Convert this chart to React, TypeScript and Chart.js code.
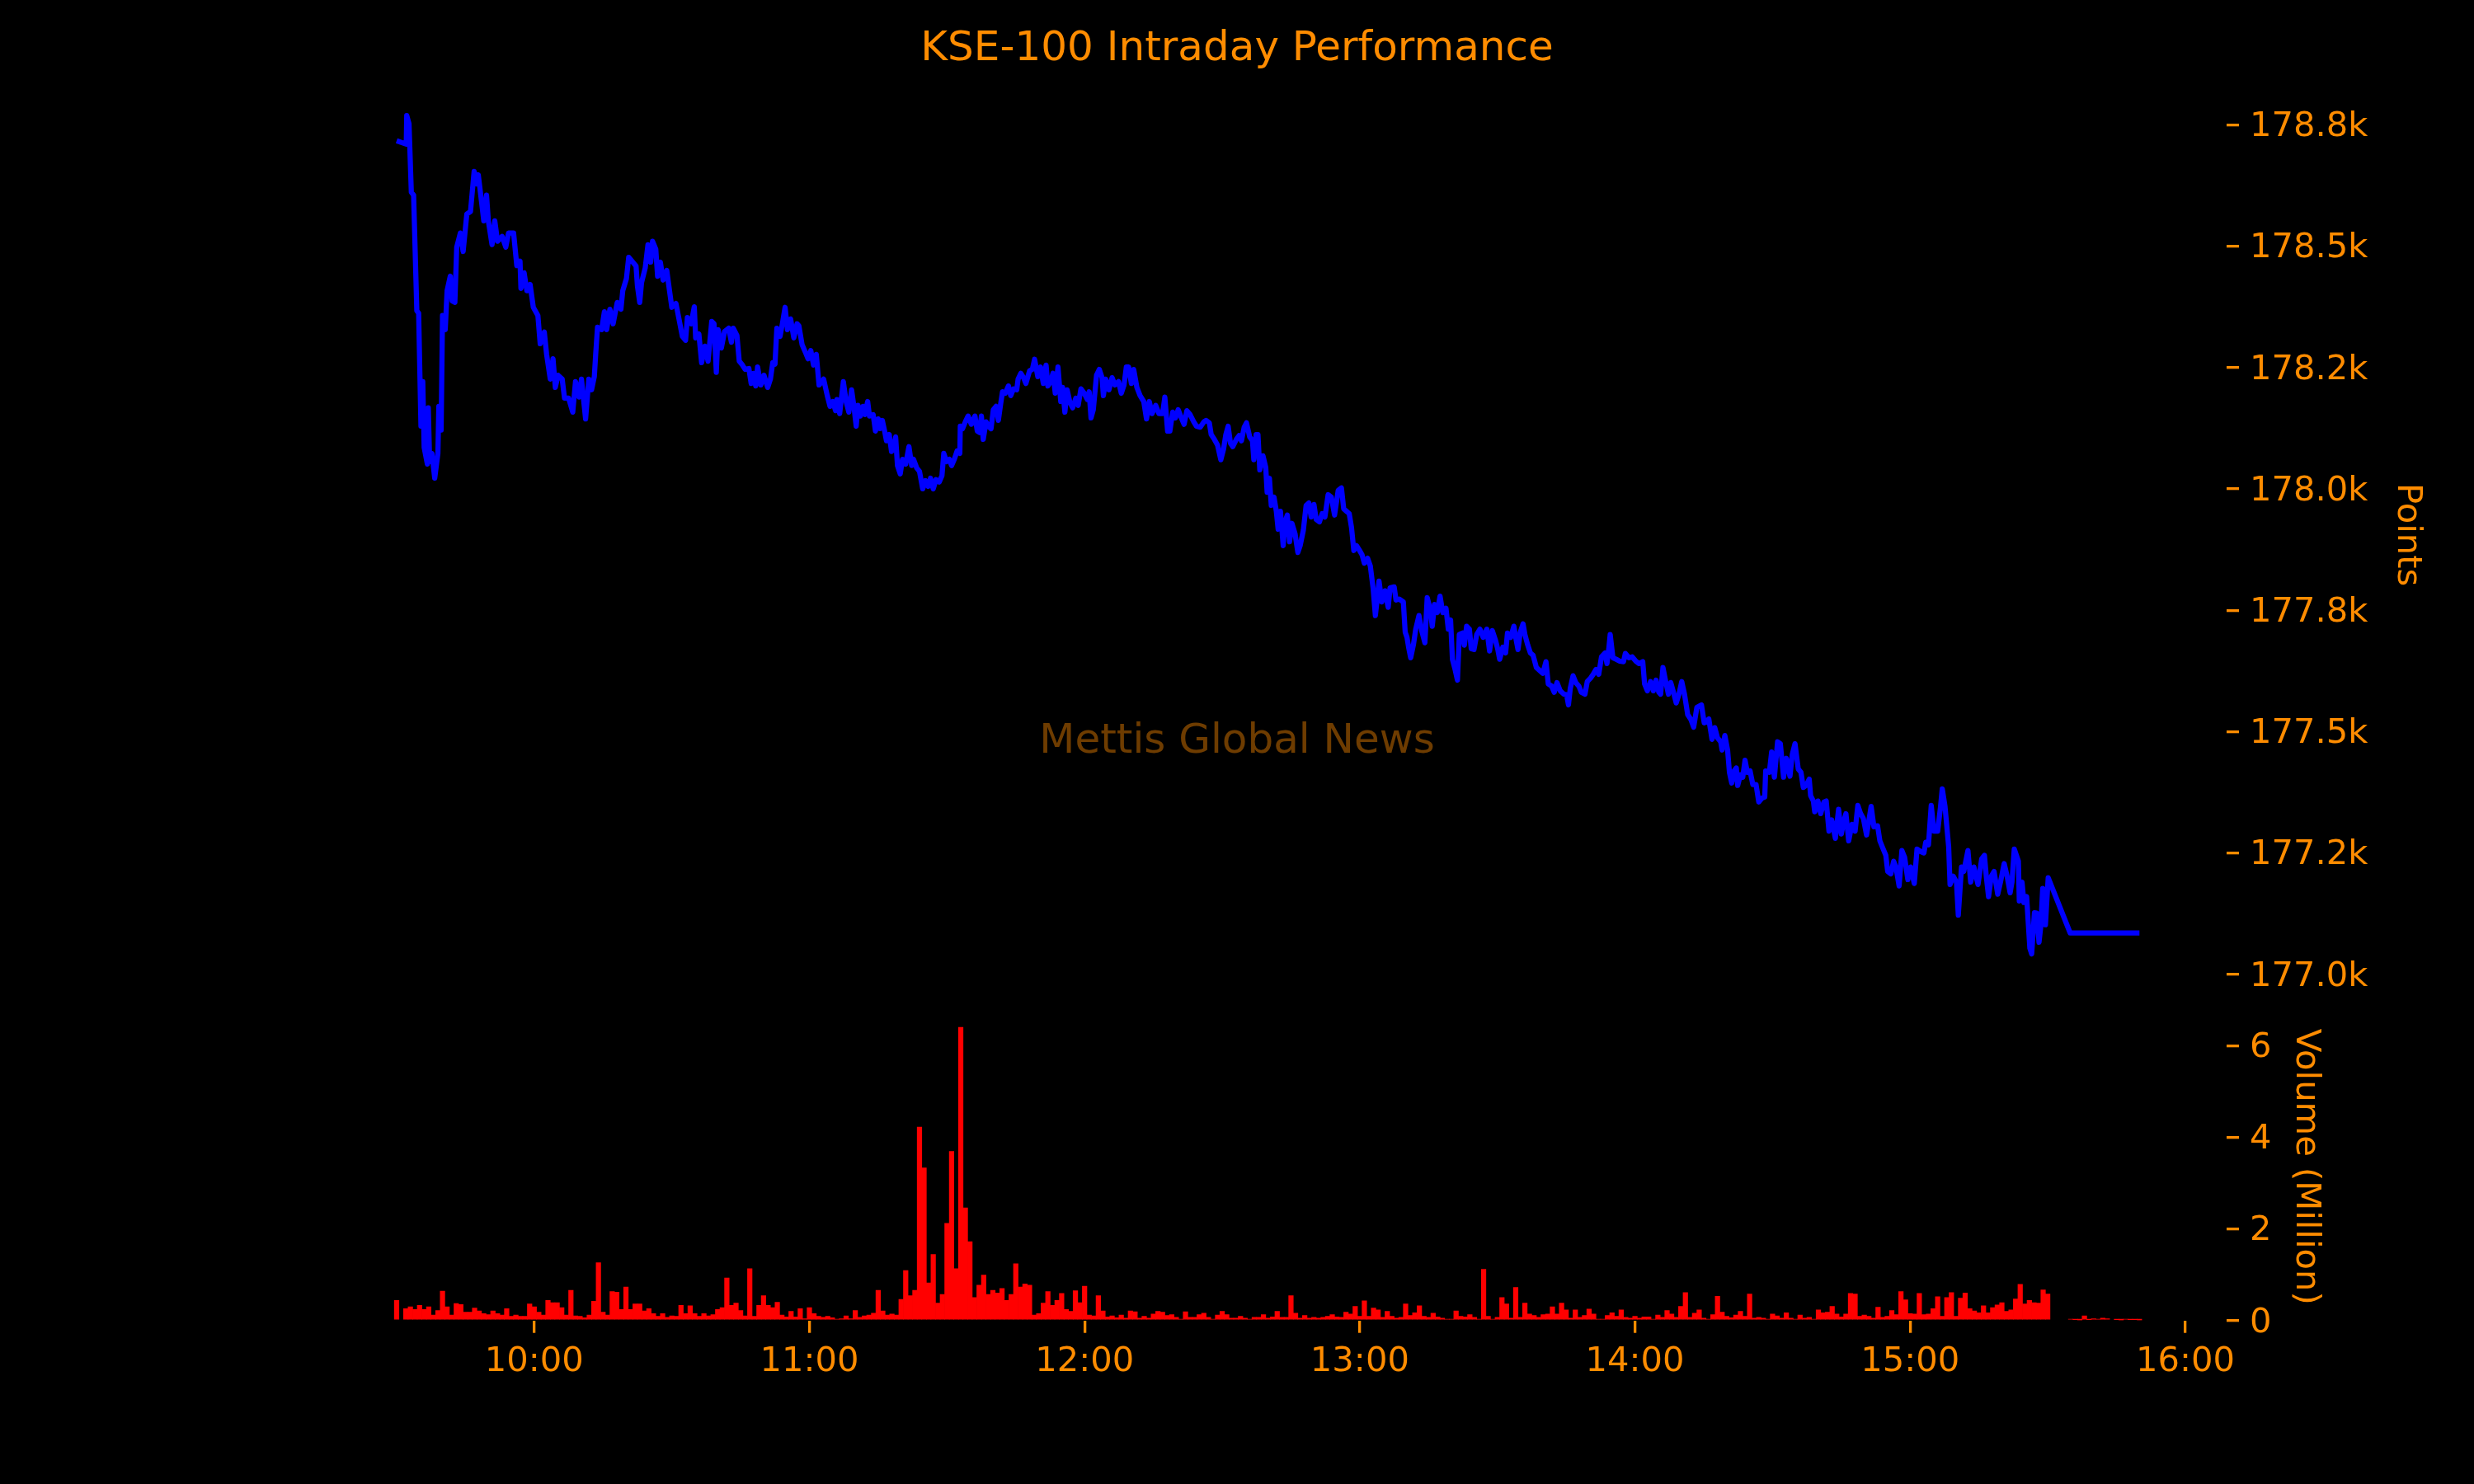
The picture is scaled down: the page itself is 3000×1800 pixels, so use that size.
import React, { useEffect, useRef } from 'react';
import { Chart, registerables } from 'chart.js';

Chart.register(...registerables);

// ---------------- data ----------------
// KSE-100 index level, time in minutes after midnight
const lineTimes = [
  570.0, 572.1, 572.2, 572.7, 573.2, 573.7, 574.4, 574.8, 575.3, 575.7,
  576.0, 576.7, 576.9, 577.2, 577.7, 578.3, 579.0, 579.2, 579.7, 580.0,
  580.6, 581.0, 581.7, 582.1, 582.7, 583.1, 583.9, 584.5, 585.3, 586.1,
  586.9, 587.4, 587.8, 588.3, 589.0, 589.6, 590.0, 590.8, 591.4, 592.0,
  593.0, 593.8, 594.4, 595.5, 596.2, 596.9, 597.1, 597.8, 598.4, 599.1,
  599.8, 600.8, 601.3, 602.2, 602.7, 603.5, 604.1, 604.6, 605.2, 606.1,
  606.6, 607.5, 608.4, 609.0, 609.8, 610.3, 611.2, 611.9, 612.5, 613.1,
  613.4, 613.8, 614.7, 615.3, 615.8, 616.5, 617.2, 618.1, 618.9, 619.3,
  620.1, 620.6, 621.5, 622.2, 622.5, 623.0, 623.4, 624.2, 624.8, 625.4,
  625.8, 626.5, 626.9, 627.5, 628.1, 628.9, 629.5, 630.0, 630.9, 631.5,
  632.3, 633.0, 633.4, 634.2, 634.9, 635.2, 635.9, 636.5, 637.2, 637.9,
  638.7, 639.2, 639.7, 640.1, 640.8, 641.5, 642.4, 643.0, 643.4, 644.2,
  644.7, 645.4, 646.0, 646.8, 647.3, 647.8, 648.3, 648.7, 649.4, 650.1,
  650.9, 651.5, 652.0, 652.5, 652.9, 653.6, 654.1, 654.7, 655.2, 655.9,
  656.6, 657.3, 657.7, 658.4, 659.1, 659.7, 660.3, 660.9, 661.5, 662.1, 663.1,
  663.9, 664.5, 665.1, 665.7, 666.0, 666.6, 667.4, 668.0, 668.6, 669.2,
  669.7, 670.2, 670.6, 671.1, 671.7, 672.1, 672.7, 673.1, 673.9, 674.4,
  675.0, 675.4, 675.9, 676.4, 676.8, 677.4, 677.9, 678.4, 678.8, 679.2,
  679.8, 680.3, 681.0, 681.7, 682.3, 682.7, 683.4, 684.0, 684.7, 685.3,
  685.9, 686.4, 687.0, 687.6, 688.3, 688.9, 689.3, 689.9, 690.5, 691.0,
  691.6, 692.2, 692.8, 692.9, 693.4, 694.0, 694.6, 695.3, 696.1, 696.6,
  697.1, 697.5, 697.9, 698.5, 699.2, 699.6, 700.1, 700.7, 701.2, 701.7,
  702.1, 702.7, 703.4, 703.9, 704.5, 705.2, 705.5, 706.1, 706.7, 707.2,
  708.0, 708.6, 709.1, 709.8, 710.4, 711.0, 711.6, 712.0, 712.6, 713.1,
  713.6, 714.2, 714.8, 715.2, 715.7, 716.2, 716.8, 717.4, 718.1, 718.6,
  719.2, 719.9, 720.6, 721.0, 721.4, 721.9, 722.6, 723.2, 723.8, 724.1,
  724.6, 725.3, 726.0, 726.6, 727.4, 728.0, 728.6, 729.1, 729.6, 730.2,
  730.7, 731.4, 732.1, 732.9, 733.5, 734.1, 734.7, 735.5, 736.2, 737.0,
  737.5, 738.1, 738.6, 739.2, 739.8, 740.4, 741.1, 741.7, 742.3, 743.0,
  743.8, 744.4, 745.2, 746.0, 746.5, 747.2, 747.6, 748.3, 749.0, 749.7,
  750.3, 750.8, 751.3, 751.8, 752.3, 753.1, 753.7, 754.2, 754.8, 755.3,
  756.0, 756.6, 756.9, 757.4, 757.8, 758.2, 758.9, 759.5, 759.8, 760.3,
  760.7, 761.3, 761.8, 762.2, 762.7, 763.3, 763.7, 764.2, 764.7, 765.2,
  765.9, 766.5, 767.0, 767.7, 768.3, 768.9, 769.4, 770.0, 770.5, 771.2,
  771.8, 772.4, 773.1, 773.8, 774.5, 775.3, 776.0, 776.5, 777.1, 777.7,
  778.2, 778.7, 779.3, 779.9, 780.5, 781.0, 781.7, 782.3, 782.9, 783.4,
  783.8, 784.2, 784.8, 785.5, 786.2, 786.6, 787.5, 787.9, 788.6, 789.5,
  789.9, 790.3, 790.7, 791.1, 791.7, 792.2, 792.9, 793.5, 794.2, 794.7,
  795.4, 795.8, 796.3, 796.9, 797.5, 798.1, 798.8, 799.3, 799.8, 800.2,
  800.8, 801.3, 801.7, 802.4, 802.8, 803.3, 803.9, 804.3, 804.9, 805.5,
  806.2, 806.9, 807.7, 808.3, 808.9, 809.6, 810.1, 810.5, 811.2, 811.8,
  812.2, 812.9, 813.6, 814.0, 814.5, 815.0, 815.6, 816.0, 816.6, 817.2,
  817.8, 818.5, 819.1, 819.9, 820.6, 821.1, 821.8, 822.4, 823.0, 823.7,
  824.5, 825.1, 825.5, 825.9, 826.5, 827.1, 827.8, 828.3, 829.1, 829.6,
  830.3, 830.9, 831.5, 832.1, 832.7, 833.5, 833.9, 834.3, 834.6, 835.2,
  835.9, 836.7, 837.5, 837.9, 838.7, 839.4, 840.2, 840.9, 841.7, 842.1,
  842.7, 843.4, 844.0, 844.6, 845.2, 845.6, 846.1, 846.7, 847.3, 847.8,
  848.4, 849.0, 849.6, 850.2, 850.8, 851.5, 852.2, 852.8, 853.5,
  854.5, 855.1, 856.1, 856.8, 857.4, 858.0, 858.7, 859.0, 859.6, 860.2,
  860.6, 861.1, 861.6, 862.1, 862.4, 863.0, 863.5, 864.0, 864.5, 865.1,
  865.7, 866.4, 867.0, 867.7, 868.3, 868.5, 869.3, 869.8, 870.4, 871.1,
  871.7, 872.4, 873.0, 873.8, 874.3, 874.9, 875.6, 876.2, 876.7, 877.3,
  878.0, 878.3, 878.9, 879.2, 879.9, 880.5, 881.2, 881.7, 882.3, 882.9,
  883.7, 884.4, 885.0, 885.5, 886.0, 886.6, 887.3, 888.0, 888.6, 889.2,
  889.8, 890.5, 891.5, 892.1, 892.9, 893.4, 894.0, 894.7, 895.1, 895.8,
  896.4, 896.9, 897.6, 898.2, 898.8, 899.5, 900.1, 900.9, 901.5, 902.3,
  903.0, 903.4, 904.0, 904.6, 905.2, 906.0, 906.6, 907.0, 907.6, 908.4,
  908.7, 909.4, 910.1, 910.5, 911.2, 911.7, 912.6, 913.2, 913.9, 914.8,
  915.6, 916.2, 916.6, 917.1, 917.7, 918.3, 919.1, 919.7, 920.5, 921.1,
  921.8, 922.2, 922.7, 923.6, 923.8, 924.4, 924.8, 925.4, 926.1, 926.5,
  927.1, 927.6, 928.1, 928.5, 928.9, 929.5, 930.1, 934.9, 950.0,
];

const lineValues = [
  178717, 178710, 178769, 178752, 178611, 178605, 178367, 178362, 178129, 178221,
  178085, 178051, 178167, 178056, 178073, 178022, 178073, 178170, 178121, 178357,
  178328, 178408, 178438, 178387, 178384, 178498, 178527, 178489, 178566, 178571,
  178654, 178628, 178647, 178608, 178552, 178605, 178552, 178503, 178552, 178510,
  178520, 178498, 178527, 178527, 178460, 178469, 178413, 178445, 178408, 178421,
  178374, 178357, 178299, 178323, 178277, 178226, 178268, 178209, 178234, 178226,
  178187, 178187, 178158, 178221, 178189, 178226, 178144, 178226, 178204, 178231,
  178277, 178333, 178328, 178365, 178328, 178370, 178340, 178384, 178370, 178408,
  178433, 178477, 178467, 178459, 178418, 178384, 178425, 178455, 178503, 178467,
  178510, 178494, 178438, 178467, 178430, 178450, 178408, 178374, 178382, 178353,
  178314, 178306, 178353, 178340, 178375, 178311, 178319, 178260, 178294, 178263,
  178345, 178340, 178240, 178328, 178290, 178324, 178331, 178302, 178331, 178316,
  178263, 178255, 178246, 178248, 178217, 178238, 178212, 178251, 178214, 178234,
  178209, 178226, 178260, 178257, 178331, 178314, 178340, 178374, 178328, 178350,
  178311, 178340, 178336, 178297, 178282, 178268, 178285, 178255, 178277, 178214, 178226,
  178192, 178170, 178180, 178161, 178184, 178155, 178221, 178180, 178158, 178204,
  178170, 178129, 178172, 178150, 178170, 178153, 178180, 178150, 178153, 178119,
  178144, 178124, 178141, 178119, 178099, 178112, 178077, 178085, 178107, 178048,
  178031, 178061, 178051, 178087, 178048, 178061, 178043, 178036, 178000, 178017,
  178005, 178022, 178000, 178019, 178014, 178027, 178073, 178056, 178061, 178048,
  178061, 178078, 178073, 178129, 178124, 178138, 178150, 178133, 178150, 178119,
  178116, 178150, 178102, 178138, 178127, 178124, 178163, 178170, 178141, 178175,
  178200, 178197, 178212, 178192, 178206, 178204, 178226, 178238, 178229, 178217,
  178243, 178246, 178267, 178231, 178251, 178217, 178255, 178212, 178221, 178238,
  178197, 178251, 178180, 178209, 178158, 178204, 178178, 178167, 178187, 178172,
  178206, 178197, 178184, 178200, 178146, 178163, 178234, 178246, 178229, 178192,
  178226, 178204, 178229, 178214, 178221, 178197, 178214, 178251, 178251, 178217,
  178246, 178209, 178192, 178180, 178144, 178180, 178155, 178172, 178155, 178155,
  178189, 178119, 178119, 178158, 178146, 178163, 178146, 178133, 178161, 178153,
  178138, 178129, 178127, 178138, 178141, 178136, 178112, 178102, 178090, 178060,
  178082, 178112, 178129, 178094, 178087, 178102, 178110, 178099, 178127, 178136,
  178107, 178099, 178060, 178112, 178112, 178039, 178068, 178044, 177993, 178022,
  177966, 177983, 177954, 177917, 177954, 177883, 177932, 177946, 177891, 177929,
  177907, 177869, 177883, 177915, 177966, 177971, 177942, 177968, 177937, 177932,
  177949, 177942, 177988, 177983, 177946, 177997, 178002, 177959, 177954, 177949,
  177920, 177873, 177883, 177874, 177864, 177847, 177857, 177841, 177796, 177739,
  177773, 177810, 177767, 177790, 177756, 177796, 177798, 177771, 177773, 177767,
  177705, 177694, 177671, 177652, 177679, 177711, 177739, 177708, 177683, 177776,
  177751, 177717, 177762, 177745, 177779, 177745, 177754, 177711, 177730, 177649,
  177627, 177606, 177700, 177703, 177678, 177717, 177711, 177671, 177669, 177700,
  177711, 177694, 177711, 177666, 177708, 177688, 177669, 177649, 177674, 177662,
  177703, 177694, 177717, 177694, 177669, 177705, 177722, 177700, 177679, 177662,
  177657, 177632, 177627, 177620, 177644, 177598, 177594, 177581, 177601, 177584,
  177577, 177576, 177555, 177589, 177615, 177601, 177593, 177581, 177577, 177603,
  177610, 177618, 177628, 177618, 177654, 177662, 177640, 177671, 177700, 177652,
  177649, 177645, 177644, 177661, 177652, 177654, 177645, 177640, 177644, 177598,
  177584, 177603, 177584, 177606, 177581, 177577, 177632, 177603, 177577, 177601,
  177581, 177559, 177577, 177603, 177577, 177535, 177525, 177509, 177550,
  177555, 177518, 177526, 177484, 177508, 177487, 177479, 177462, 177492, 177462,
  177416, 177394, 177419, 177425, 177389, 177411, 177406, 177441, 177416, 177419,
  177391, 177391, 177355, 177363, 177365, 177419, 177416, 177458, 177406, 177479,
  177475, 177406, 177445, 177408, 177453, 177475, 177423, 177416, 177385, 177389,
  177402, 177368, 177357, 177335, 177357, 177331, 177355, 177357, 177295, 177318,
  177280, 177340, 177289, 177314, 177331, 177275, 177309, 177295, 177348, 177331,
  177321, 177287, 177346, 177304, 177306, 177275, 177261, 177245, 177212, 177207,
  177233, 177221, 177182, 177255, 177241, 177195, 177221, 177187, 177258, 177253,
  177250, 177272, 177267, 177348, 177295, 177295, 177343, 177382, 177346, 177263,
  177185, 177202, 177190, 177122, 177221, 177212, 177255, 177190, 177221, 177185,
  177238, 177245, 177202, 177160, 177202, 177212, 177165, 177190, 177228, 177204,
  177168, 177190, 177258, 177233, 177151, 177190, 177148, 177160, 177054, 177042,
  177127, 177126, 177066, 177100, 177177, 177102, 177199, 177085, 177085,
];

// Traded volume in millions, one bar per minute starting at 09:30 (570 min)
const volumeStartMinute = 570;
const volumeValues = [
  0.44, 0, 0.26, 0.30, 0.24, 0.33, 0.24, 0.30, 0.12, 0.22,
  0.64, 0.30, 0.12, 0.37, 0.35, 0.18, 0.18, 0.27, 0.21, 0.15,
  0.13, 0.21, 0.15, 0.12, 0.26, 0.09, 0.12, 0.09, 0.09, 0.36,
  0.30, 0.18, 0.12, 0.44, 0.39, 0.39, 0.28, 0.12, 0.66, 0.10,
  0.09, 0.06, 0.12, 0.42, 1.26, 0.18, 0.12, 0.63, 0.62, 0.24,
  0.73, 0.24, 0.36, 0.36, 0.21, 0.26, 0.15, 0.09, 0.15, 0.07,
  0.10, 0.09, 0.33, 0.15, 0.32, 0.15, 0.09, 0.15, 0.10, 0.13,
  0.24, 0.28, 0.93, 0.33, 0.38, 0.22, 0.10, 1.13, 0.09, 0.33,
  0.54, 0.33, 0.28, 0.40, 0.12, 0.08, 0.20, 0.08, 0.26, 0.04,
  0.28, 0.15, 0.09, 0.07, 0.09, 0.06, 0.03, 0.04, 0.10, 0.04,
  0.22, 0.07, 0.10, 0.12, 0.16, 0.66, 0.21, 0.12, 0.14, 0.12,
  0.46, 1.09, 0.54, 0.66, 4.22, 3.33, 0.82, 1.44, 0.38, 0.57,
  2.12, 3.69, 1.13, 6.40, 2.46, 1.72, 0.50, 0.77, 0.99, 0.57,
  0.66, 0.60, 0.70, 0.44, 0.57, 1.24, 0.73, 0.80, 0.77, 0.12,
  0.15, 0.38, 0.63, 0.33, 0.44, 0.59, 0.24, 0.20, 0.65, 0.39,
  0.75, 0.12, 0.10, 0.54, 0.21, 0.08, 0.10, 0.06, 0.12, 0.05,
  0.21, 0.19, 0.05, 0.09, 0.05, 0.14, 0.20, 0.18, 0.11, 0.13,
  0.07, 0.03, 0.19, 0.07, 0.07, 0.13, 0.16, 0.07, 0.03, 0.12,
  0.20, 0.13, 0.05, 0.05, 0.09, 0.05, 0.03, 0.07, 0.07, 0.13,
  0.05, 0.08, 0.20, 0.07, 0.07, 0.54, 0.16, 0.05, 0.11, 0.05,
  0.07, 0.05, 0.07, 0.09, 0.13, 0.08, 0.07, 0.18, 0.14, 0.31,
  0.09, 0.43, 0.09, 0.27, 0.23, 0.07, 0.20, 0.09, 0.05, 0.07,
  0.36, 0.11, 0.17, 0.32, 0.09, 0.07, 0.16, 0.08, 0.05, 0.03,
  0.03, 0.21, 0.09, 0.08, 0.13, 0.07, 0.03, 1.12, 0.09, 0.03,
  0.07, 0.50, 0.36, 0.05, 0.72, 0.07, 0.38, 0.14, 0.11, 0.07,
  0.13, 0.14, 0.30, 0.14, 0.38, 0.23, 0.05, 0.23, 0.07, 0.11,
  0.25, 0.14, 0.03, 0.03, 0.11, 0.17, 0.09, 0.23, 0.07, 0.05,
  0.09, 0.05, 0.08, 0.08, 0.03, 0.12, 0.07, 0.22, 0.14, 0.07,
  0.31, 0.61, 0.07, 0.16, 0.23, 0.05, 0.03, 0.13, 0.53, 0.18,
  0.09, 0.06, 0.12, 0.20, 0.09, 0.58, 0.05, 0.07, 0.05, 0.03,
  0.14, 0.10, 0.05, 0.17, 0.05, 0.03, 0.12, 0.05, 0.07, 0.03,
  0.23, 0.17, 0.18, 0.31, 0.14, 0.08, 0.14, 0.59, 0.58, 0.09,
  0.12, 0.09, 0.05, 0.29, 0.07, 0.09, 0.22, 0.13, 0.63, 0.45,
  0.15, 0.14, 0.59, 0.13, 0.14, 0.26, 0.52, 0.09, 0.50, 0.61,
  0.09, 0.49, 0.60, 0.26, 0.21, 0.17, 0.32, 0.17, 0.28, 0.34,
  0.39, 0.20, 0.23, 0.47, 0.79, 0.36, 0.44, 0.39, 0.38, 0.67,
  0.58, 0, 0, 0, 0, 0.03, 0.02, 0.01, 0.10, 0.02,
  0.04, 0.03, 0.05, 0.04, 0, 0.02, 0.01, 0.03, 0.02, 0.02, 0.01,
];

const hourTicks = [600, 660, 720, 780, 840, 900, 960];
const hourTickLabels = ['10:00', '11:00', '12:00', '13:00', '14:00', '15:00', '16:00'];
const priceTicks = [177000, 177250, 177500, 177750, 178000, 178250, 178500, 178750];
const priceTickLabels = ['177.0k', '177.2k', '177.5k', '177.8k', '178.0k', '178.2k', '178.5k', '178.8k'];
const volumeTicks = [0, 2, 4, 6];
const volumeTickLabels = ['0', '2', '4', '6'];

const titleText = 'KSE-100 Intraday Performance';
const watermarkText = 'Mettis Global News';

// axis limits
const X_MIN = 551;
const X_MAX = 969;
const PRICE_MIN = 176956;
const PRICE_MAX = 178855;
const VOLUME_MAX = 6.71;

// ---------------- layout / style ----------------
const W = 3000;
const H = 1800;
const PLOT_LEFT = 375.3;
const PLOT_RIGHT = 2700;
const PRICE_TOP = 89.5;
const PRICE_BOTTOM = 1207.7;
const VOL_TOP = 1228.8;
const VOL_BOTTOM = 1601.7;
const X_AXIS_H = 150;

const ORANGE = '#FF8C00';
const FONT = "'DejaVu Sans', sans-serif";
const TICK_SIZE = 41.67;

const gridTicks = {
  drawOnChartArea: false,
  drawTicks: true,
  tickLength: 15,
  tickWidth: 3.3,
  lineWidth: 3.3,
  color: ORANGE,
  tickColor: ORANGE,
  offset: false,
};

const figureTextPlugin = {
  id: 'figureText',
  afterDraw(chart: any) {
    const ctx = chart.ctx as CanvasRenderingContext2D;
    ctx.save();
    ctx.font = `50px ${FONT}`;
    ctx.textAlign = 'center';
    ctx.textBaseline = 'alphabetic';
    ctx.fillStyle = ORANGE;
    ctx.fillText(titleText, W / 2, 73.3);
    ctx.fillStyle = 'rgba(255,140,0,0.43)';
    ctx.fillText(watermarkText, W / 2, 913);
    ctx.restore();
  },
};

export default function App() {
  const priceRef = useRef<HTMLCanvasElement>(null);
  const volRef = useRef<HTMLCanvasElement>(null);

  useEffect(() => {
    document.body.style.margin = '0';
    document.body.style.background = '#000';
    Chart.defaults.font.family = FONT;

    const priceData = lineTimes.map((t, i) => ({ x: t, y: lineValues[i] }));
    const volumeData = volumeValues
      .map((v, i) => ({ x: volumeStartMinute + i, y: v }))
      .filter((d) => d.y > 0);

    const priceChart = new Chart(priceRef.current as HTMLCanvasElement, {
      type: 'line',
      data: {
        datasets: [
          {
            data: priceData,
            borderColor: '#0000FF',
            borderWidth: 6.25,
            pointRadius: 0,
            tension: 0,
            fill: false,
            borderJoinStyle: 'round',
            borderCapStyle: 'butt',
          } as any,
        ],
      },
      options: {
        responsive: false,
        animation: false,
        devicePixelRatio: 1,
        events: [],
        layout: {
          autoPadding: false,
          padding: { left: PLOT_LEFT, top: PRICE_TOP, right: 0, bottom: H - PRICE_BOTTOM },
        },
        plugins: {
          legend: { display: false },
          tooltip: { enabled: false },
          title: { display: false },
        },
        scales: {
          x: { type: 'linear', min: X_MIN, max: X_MAX, display: false },
          y: {
            type: 'linear',
            position: 'right',
            min: PRICE_MIN,
            max: PRICE_MAX,
            afterBuildTicks: (s: any) => {
              s.ticks = priceTicks.map((v) => ({ value: v }));
            },
            afterFit: (s: any) => {
              s.width = W - PLOT_RIGHT;
            },
            ticks: {
              color: ORANGE,
              font: { family: FONT, size: TICK_SIZE },
              padding: 13,
              labelOffset: 3,
              autoSkip: false,
              callback: (_v: any, i: number) => priceTickLabels[i],
            },
            grid: gridTicks,
            border: { display: false },
            title: {
              display: true,
              text: 'Points',
              color: ORANGE,
              font: { family: FONT, size: TICK_SIZE },
              padding: { top: 56, bottom: 0 },
            },
          },
        },
      } as any,
      plugins: [figureTextPlugin],
    });

    const volumeChart = new Chart(volRef.current as HTMLCanvasElement, {
      type: 'bar',
      data: {
        datasets: [
          {
            data: volumeData,
            backgroundColor: '#FF0000',
            borderWidth: 0,
            barPercentage: 1,
            categoryPercentage: 1,
          } as any,
        ],
      },
      options: {
        responsive: false,
        animation: false,
        devicePixelRatio: 1,
        events: [],
        layout: {
          autoPadding: false,
          padding: { left: PLOT_LEFT, top: VOL_TOP, right: 0, bottom: H - VOL_BOTTOM - X_AXIS_H },
        },
        plugins: {
          legend: { display: false },
          tooltip: { enabled: false },
          title: { display: false },
        },
        scales: {
          x: {
            type: 'linear',
            position: 'bottom',
            min: X_MIN,
            max: X_MAX,
            offset: false,
            afterBuildTicks: (s: any) => {
              s.ticks = hourTicks.map((v) => ({ value: v }));
            },
            afterFit: (s: any) => {
              s.height = X_AXIS_H;
            },
            ticks: {
              color: ORANGE,
              font: { family: FONT, size: TICK_SIZE },
              padding: 10,
              autoSkip: false,
              maxRotation: 0,
              minRotation: 0,
              callback: (_v: any, i: number) => hourTickLabels[i],
            },
            grid: gridTicks,
            border: { display: false },
          },
          y: {
            type: 'linear',
            position: 'right',
            min: 0,
            max: VOLUME_MAX,
            afterBuildTicks: (s: any) => {
              s.ticks = volumeTicks.map((v) => ({ value: v }));
            },
            afterFit: (s: any) => {
              s.width = W - PLOT_RIGHT;
            },
            ticks: {
              color: ORANGE,
              font: { family: FONT, size: TICK_SIZE },
              padding: 13,
              labelOffset: 3,
              autoSkip: false,
              callback: (_v: any, i: number) => volumeTickLabels[i],
            },
            grid: gridTicks,
            border: { display: false },
            title: {
              display: true,
              text: 'Volume (Million)',
              color: ORANGE,
              font: { family: FONT, size: TICK_SIZE },
              padding: { top: 179, bottom: 0 },
            },
          },
        },
      } as any,
    });

    return () => {
      priceChart.destroy();
      volumeChart.destroy();
    };
  }, []);

  const canvasStyle: React.CSSProperties = {
    position: 'absolute',
    left: 0,
    top: 0,
    width: W,
    height: H,
  };

  return (
    <div
      style={{
        position: 'fixed',
        left: 0,
        top: 0,
        width: W,
        height: H,
        background: '#000',
        overflow: 'hidden',
      }}
    >
      <canvas ref={volRef} width={W} height={H} style={canvasStyle} />
      <canvas ref={priceRef} width={W} height={H} style={canvasStyle} />
    </div>
  );
}
